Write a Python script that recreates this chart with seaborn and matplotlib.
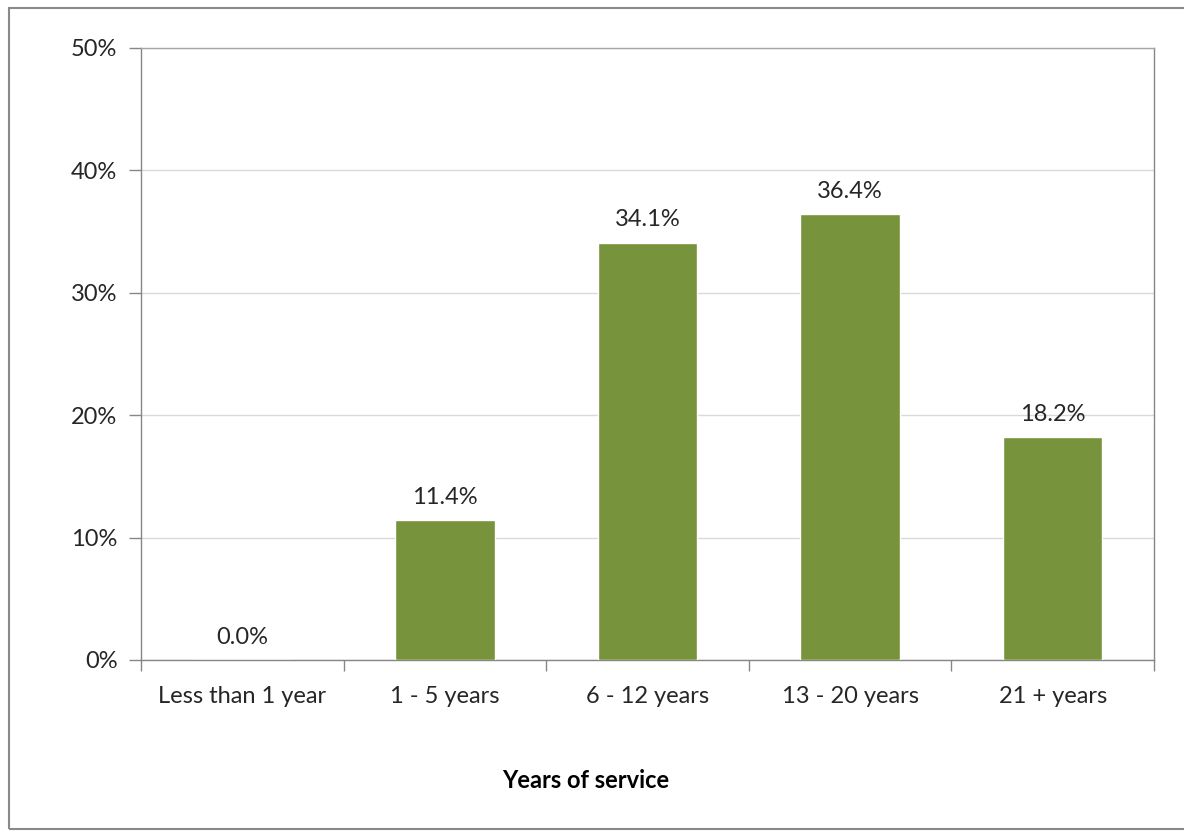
import matplotlib
matplotlib.use("Agg")
import matplotlib.pyplot as plt
import matplotlib.patches as mpatches
from matplotlib.ticker import FixedLocator, PercentFormatter
import numpy as np
import pandas as pd
import seaborn as sns

categories = ["Less than 1 year", "1 - 5 years", "6 - 12 years", "13 - 20 years", "21 + years"]
shares = [0.0, 11.4, 34.1, 36.4, 18.2]
y_ticks = [0, 10, 20, 30, 40, 50]

sns.set_theme(style="white")
plt.rcParams["font.family"] = ["Lato", "DejaVu Sans"]

df = pd.DataFrame({"category": categories, "share": shares})

fig = plt.figure(figsize=(11.84, 8.31), dpi=100)
ax = fig.add_axes([141 / 1184, 1 - 660 / 831, (1154 - 141) / 1184, (660 - 48) / 831])

bar_color = "#77933C"
sns.barplot(data=df, x="category", y="share", color=bar_color, width=0.49,
            saturation=1, ax=ax, zorder=3)

ax.set_ylim(0, 50)
ax.set_xlim(-0.5, len(categories) - 0.5)
ax.yaxis.set_major_locator(FixedLocator(y_ticks))
ax.yaxis.set_major_formatter(PercentFormatter(decimals=0))
ax.yaxis.grid(True, color="#D9D9D9", linewidth=1.0, zorder=0)
ax.set_axisbelow(True)

axis_gray = "#868686"
for side in ["left", "bottom", "top", "right"]:
    ax.spines[side].set_visible(True)
    ax.spines[side].set_color(axis_gray)
    ax.spines[side].set_linewidth(1.0)
ax.spines["top"].set_color("#A6A6A6")

fs = 17
ax.tick_params(axis="y", which="major", direction="out", length=9, width=1.0,
               color=axis_gray, left=True, pad=8, labelsize=fs, labelcolor="#262626")
# category labels without ticks, tick marks sit on the category boundaries
ax.tick_params(axis="x", which="major", length=0, pad=19, labelsize=fs, labelcolor="#262626")
ax.xaxis.set_minor_locator(FixedLocator(np.arange(-0.5, len(categories), 1.0)))
ax.tick_params(axis="x", which="minor", direction="out", length=8, width=1.0,
               color=axis_gray, bottom=True)

ax.set_xlabel("")
ax.set_ylabel("")

for i, v in enumerate(shares):
    ax.annotate(f"{v:.1f}%", xy=(i, v), xytext=(0, 9), textcoords="offset points",
                ha="center", va="bottom", fontsize=fs, color="#262626")

fig.text(586 / 1184, 1 - 780 / 831, "Years of service", ha="center", va="center",
         fontsize=fs, fontweight="bold", color="#000000")

# chart-area frame
frame = mpatches.Rectangle((9 / 1184, 1 - 829 / 831), 1.2, (829 - 8) / 831,
                           transform=fig.transFigure, fill=False,
                           edgecolor="#898989", linewidth=1.5)
fig.patches.append(frame)

fig.savefig("out.png", dpi=100, facecolor="white")
